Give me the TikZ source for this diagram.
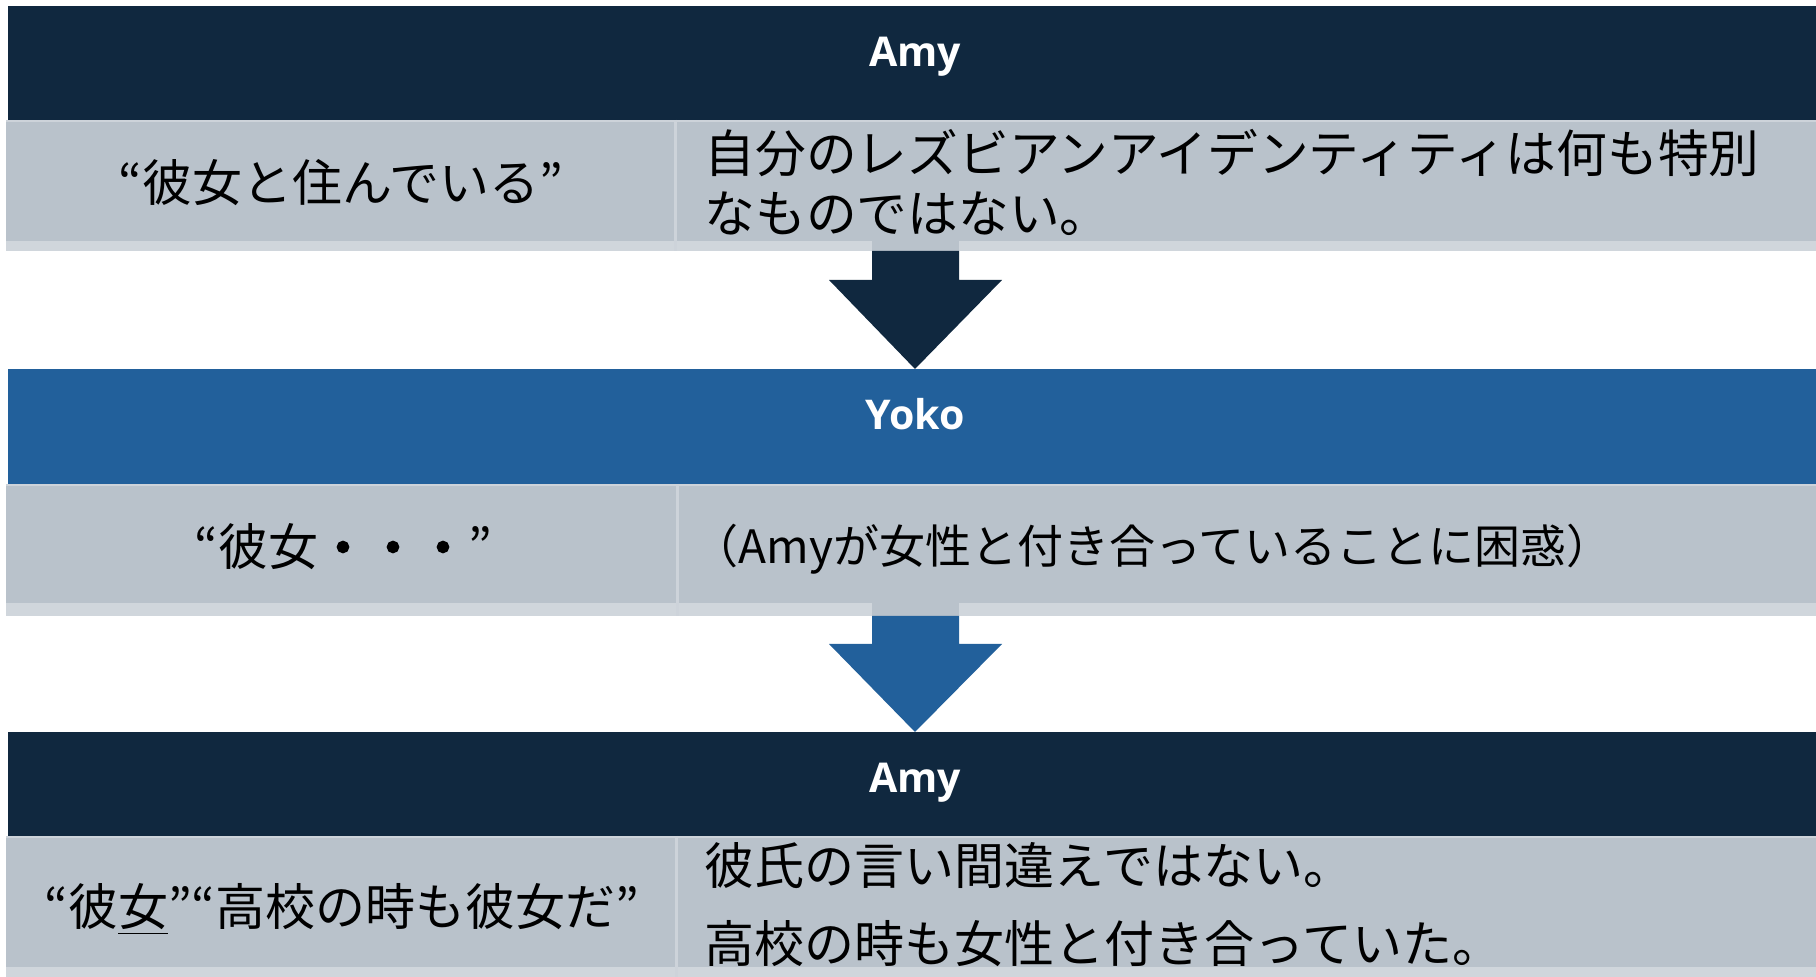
\documentclass[tikz,border=0pt]{standalone}
\usepackage{fontspec}
\newfontfamily\jp{Noto Sans CJK JP}
\newfontfamily\jpheavy{Noto Sans CJK JP}[FakeBold=4]
\newfontfamily\hdrfont{Open Sans}
\usetikzlibrary{calc}
\definecolor{navy}{HTML}{10283F}
\definecolor{midblue}{HTML}{22609B}
\definecolor{rowgray}{HTML}{B9C2CB}
\definecolor{stripgray}{HTML}{D0D6DC}
\definecolor{divgray}{HTML}{CDD3DA}
\begin{document}
\begin{tikzpicture}[x=0.4pt,y=-0.4pt,
  hdr/.style={font=\hdrfont\bfseries\fontsize{16.4}{20}\selectfont, text=white, inner sep=0pt, anchor=base},
  jtxt/.style={font=\jp\fontsize{20}{24}\selectfont, text=black, inner sep=0pt},
  jwide/.style={font=\jp\fontsize{20.3}{24}\selectfont, text=black, inner sep=0pt},
  jsmall/.style={font=\jp\fontsize{18.4}{22}\selectfont, text=black, inner sep=0pt},
  jmid/.style={font=\jp\fontsize{20}{24}\selectfont, text=black, inner sep=0pt},
  divider/.style={divgray, line width=1.2pt},
  rowtop/.style={divgray, line width=0.6pt}]
\useasboundingbox (0,0) rectangle (1816,977);
\fill[white] (0,0) rectangle (1816,977);

% ---- block 1 ----
\fill[navy] (8,6) rectangle (1816,120);
\fill[rowgray] (6,120) rectangle (1816,241);
\fill[stripgray] (6,241) rectangle (1816,251);
\draw[rowtop] (6,121) -- (1816,121);
\draw[divider] (675,120) -- (675,251);
\node[hdr] (h1) at (915,67) {Amy};
\node[jtxt, anchor=base] (l1) at (341,202) {“彼女と住んでいる”};
\node[jwide, anchor=base west] (r1a) at (704,173) {自分のレズビアンアイデンティティは何も特別};
\node[jwide, anchor=base west] (r1b) at (704,233) {なものではない。};

% ---- arrow 1 ----
\coordinate (a1s) at (915,251);
\coordinate (a1t) at (915,369);
\fill[rowgray] (872,241) rectangle (959,251);
\fill[navy] ($(a1s)+(-43,0)$) -- ($(a1s)+(44,0)$) -- ($(a1s)+(44,29)$) -- ($(a1s)+(87,29)$)
  -- (a1t) -- ($(a1s)+(-86,29)$) -- ($(a1s)+(-43,29)$) -- cycle;

% ---- block 2 ----
\fill[midblue] (8,369) rectangle (1816,484);
\fill[rowgray] (6,484) rectangle (1816,603);
\fill[stripgray] (6,603) rectangle (1816,616);
\draw[rowtop] (6,485) -- (1816,485);
\draw[divider] (677,484) -- (677,616);
\node[hdr] (h2) at (915,430) {Yoko};
\node[jtxt, anchor=base] (l2) at (343,566) {“彼女{\jpheavy ・・・}”};
\node[jsmall, anchor=base west] (r2) at (692,564) {（Amyが女性と付き合っていることに困惑）};

% ---- arrow 2 ----
\coordinate (a2s) at (915,616);
\coordinate (a2t) at (915,732);
\fill[rowgray] (872,603) rectangle (959,616);
\fill[midblue] ($(a2s)+(-43,0)$) -- ($(a2s)+(44,0)$) -- ($(a2s)+(44,28)$) -- ($(a2s)+(87,28)$)
  -- (a2t) -- ($(a2s)+(-86,28)$) -- ($(a2s)+(-43,28)$) -- cycle;

% ---- block 3 ----
\fill[navy] (8,732) rectangle (1816,836);
\fill[rowgray] (6,836) rectangle (1816,967);
\fill[stripgray] (6,967) rectangle (1816,977);
\draw[rowtop] (6,837) -- (1816,837);
\draw[divider] (676,836) -- (676,977);
\node[hdr] (h3) at (915,793) {Amy};
\node[jtxt, anchor=base] (l3) at (342,926) {“彼\underline{女}”“高校の時も彼女だ”};
\node[jmid, anchor=base west] (r3a) at (704,885) {彼氏の言い間違えではない。};
\node[jmid, anchor=base west] (r3b) at (704,963) {高校の時も女性と付き合っていた。};
\end{tikzpicture}
\end{document}
